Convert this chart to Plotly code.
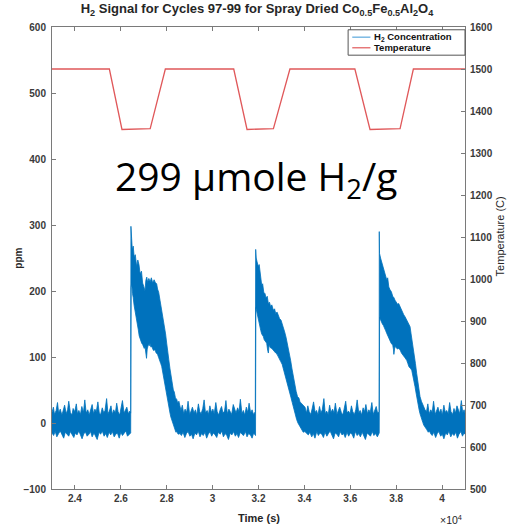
import plotly.graph_objects as go

# ---------------- data ----------------
x_tick_vals = [24000, 26000, 28000, 30000, 32000, 34000, 36000, 38000, 40000]
x_tick_text = ["2.4", "2.6", "2.8", "3", "3.2", "3.4", "3.6", "3.8", "4"]
y_tick_vals = [-100, 0, 100, 200, 300, 400, 500, 600]
y2_tick_vals = [500, 600, 700, 800, 900, 1000, 1100, 1200, 1300, 1400, 1500, 1600]

# temperature programme (C)
temp_time = [23000, 25500, 26050, 27280, 27940, 30920, 31500, 32650, 33370,
             36200, 36860, 38170, 38750, 41000]
temp_c = [1500, 1500, 1356, 1358, 1500, 1500, 1356, 1358, 1500,
          1500, 1356, 1358, 1500, 1500]

# ---- upper edge of the noisy H2 band (time s, ppm), segment by segment ----
up_base_a_t = [23000, 23060, 23110, 23180, 23240, 23290, 23360, 23430, 23480, 23550,
               23620, 23680, 23730, 23800, 23870, 23920, 23990, 24060, 24110, 24170,
               24240, 24300, 24370, 24430, 24490, 24560, 24620, 24680, 24750, 24810,
               24870, 24930, 25000, 25060, 25120, 25190, 25250, 25310, 25380, 25440,
               25500, 25570, 25630, 25690, 25760, 25820, 25880, 25950, 26010, 26070,
               26140, 26200, 26260, 26330, 26390, 26430]
up_base_a_v = [16, 24, 13, 19, 31, 15, 21, 12, 18, 27,
               14, 20, 33, 16, 12, 22, 17, 29, 14, 19,
               13, 25, 16, 35, 15, 20, 12, 18, 28, 14,
               21, 17, 32, 15, 13, 23, 16, 19, 37, 14,
               18, 26, 13, 20, 15, 30, 17, 12, 21, 34,
               15, 19, 24, 14, 18, 15]
up_peak_1_t = [26440, 26470, 26500, 26540, 26580, 26630, 26690, 26740, 26790, 26840,
               26900, 26950, 27000, 27053, 27090, 27130, 27170, 27220, 27280, 27330,
               27390, 27450, 27500, 27562, 27600, 27650, 27707, 27750, 27800, 27853,
               27900, 27950, 27998, 28040, 28090, 28143, 28190, 28240, 28288, 28330,
               28380, 28434, 28480, 28530, 28579]
up_peak_1_v = [298, 280, 262, 268, 252, 255, 237, 247, 240, 226,
               230, 212, 207, 200, 216, 221, 213, 219, 214, 220,
               212, 217, 213, 211, 203, 198, 186, 178, 168, 158,
               145, 135, 121, 112, 96, 82, 70, 58, 50, 47,
               38, 36, 30, 33, 26]
up_base_b_t = [28620, 28680, 28740, 28800, 28870, 28930, 29000, 29060, 29120, 29190,
               29250, 29310, 29380, 29440, 29500, 29570, 29630, 29690, 29760, 29820,
               29880, 29950, 30010, 30070, 30140, 30200, 30260, 30330, 30390, 30450,
               30520, 30580, 30640, 30710, 30770, 30830, 30900, 30960, 31020, 31090,
               31150, 31210, 31280, 31340, 31400, 31470, 31530, 31590, 31660, 31720,
               31780, 31860]
up_base_b_v = [19, 27, 14, 21, 16, 33, 13, 18, 24, 15,
               20, 12, 29, 17, 14, 22, 35, 15, 19, 13,
               26, 16, 21, 14, 31, 17, 12, 20, 25, 15,
               18, 34, 14, 21, 16, 13, 28, 19, 15, 23,
               17, 36, 14, 19, 12, 24, 16, 30, 15, 20,
               13, 17]
up_peak_2_t = [31877, 31900, 31940, 31994, 32030, 32080, 32139, 32180, 32230, 32284,
               32330, 32380, 32430, 32480, 32530, 32580, 32647, 32700, 32750, 32810,
               32865, 32920, 32980, 33030, 33083, 33140, 33200, 33250, 33301, 33350,
               33400, 33460, 33519, 33560, 33600, 33640, 33700, 33760, 33810, 33870,
               33940, 34028]
up_peak_2_v = [263, 250, 244, 237, 240, 222, 209, 211, 198, 196,
               189, 192, 181, 183, 176, 179, 171, 173, 166, 168,
               161, 158, 156, 149, 146, 138, 130, 122, 114, 105,
               95, 82, 70, 62, 55, 48, 40, 38, 32, 30,
               27, 24]
up_base_c_t = [34090, 34150, 34210, 34280, 34340, 34400, 34470, 34530, 34590, 34660,
               34720, 34780, 34850, 34910, 34970, 35040, 35100, 35160, 35230, 35290,
               35350, 35420, 35480, 35540, 35610, 35670, 35730, 35800, 35860, 35920,
               35990, 36050, 36110, 36180, 36240, 36300, 36370, 36430, 36490, 36560,
               36620, 36680, 36750, 36810, 36870, 36940, 37000, 37060, 37130, 37190,
               37258]
up_base_c_v = [15, 26, 17, 13, 22, 32, 16, 19, 12, 25,
               15, 20, 37, 14, 18, 13, 27, 16, 21, 15,
               30, 13, 19, 24, 16, 12, 21, 33, 15, 18,
               14, 26, 17, 13, 20, 35, 15, 19, 12, 23,
               17, 28, 14, 20, 16, 31, 13, 18, 25, 15,
               17]
up_peak_3_t = [37264, 37275, 37320, 37370, 37442, 37490, 37540, 37588, 37630, 37680,
               37733, 37790, 37850, 37900, 37951, 38000, 38060, 38110, 38169, 38220,
               38280, 38330, 38387, 38440, 38500, 38550, 38605, 38650, 38700, 38750,
               38790, 38840, 38895, 38930, 38970, 39010, 39040, 39100, 39150, 39200,
               39258]
up_peak_3_v = [290, 257, 250, 244, 237, 230, 226, 217, 220, 206,
               202, 199, 192, 190, 186, 183, 180, 181, 176, 172,
               168, 164, 161, 157, 153, 151, 146, 135, 124, 116,
               104, 90, 75, 66, 56, 46, 40, 33, 28, 24,
               20]
up_base_d_t = [39320, 39380, 39440, 39510, 39570, 39630, 39700, 39760, 39820, 39890,
               39950, 40010, 40080, 40140, 40200, 40270, 40330, 40390, 40460, 40520,
               40580, 40650, 40710, 40770, 40840, 40900, 40960, 41000]
up_base_d_v = [17, 29, 14, 20, 16, 33, 13, 19, 24, 15,
               21, 12, 27, 16, 19, 14, 31, 17, 13, 22,
               15, 26, 18, 14, 34, 16, 20, 15]

# ---- lower edge of the noisy H2 band (time s, ppm) ----
lo_base_a_t = [23000, 23070, 23140, 23210, 23290, 23360, 23430, 23510, 23580, 23650,
               23730, 23800, 23870, 23950, 24020, 24090, 24170, 24240, 24310, 24390,
               24460, 24530, 24610, 24680, 24750, 24830, 24900, 24970, 25050, 25120,
               25190, 25270, 25340, 25410, 25490, 25560, 25630, 25710, 25780, 25850,
               25930, 26000, 26070, 26150, 26220, 26290, 26370, 26430]
lo_base_a_v = [-15, -19, -13, -21, -16, -12, -18, -23, -14, -17,
               -20, -13, -16, -22, -15, -18, -12, -19, -24, -16,
               -14, -20, -17, -13, -21, -15, -19, -25, -14, -17,
               -12, -20, -16, -22, -14, -18, -13, -21, -17, -15,
               -23, -14, -19, -16, -12, -20, -17, -15]
lo_peak_1_t = [26448, 26470, 26510, 26540, 26580, 26618, 26650, 26690, 26730, 26763,
               26800, 26830, 26870, 26908, 26950, 26980, 27020, 27053, 27090, 27120,
               27150, 27200, 27240, 27271, 27310, 27350, 27420, 27489, 27540, 27600,
               27650, 27707, 27740, 27780, 27820, 27853, 27890, 27930, 27960, 27998,
               28030, 28070, 28110, 28143, 28180, 28210, 28250, 28288, 28330, 28360,
               28400, 28434, 28500, 28579]
lo_peak_1_v = [205, 212, 196, 190, 178, 171, 160, 155, 147, 141,
               132, 128, 124, 121, 119, 118, 113, 116, 106, 98,
               112, 119, 117, 121, 115, 116, 110, 111, 106, 104,
               99, 95, 90, 86, 80, 75, 68, 60, 53, 45,
               38, 30, 22, 15, 9, 3, -1, -5, -8, -10,
               -14, -13, -17, -16]
lo_base_b_t = [28640, 28710, 28790, 28860, 28930, 29010, 29080, 29150, 29230, 29300,
               29370, 29450, 29520, 29590, 29670, 29740, 29810, 29890, 29960, 30030,
               30110, 30180, 30250, 30330, 30400, 30470, 30550, 30620, 30690, 30770,
               30840, 30910, 30990, 31060, 31130, 31210, 31280, 31350, 31430, 31500,
               31570, 31650, 31720, 31790, 31870]
lo_base_b_v = [-19, -14, -22, -16, -13, -20, -17, -24, -15, -18,
               -12, -21, -16, -19, -14, -23, -17, -13, -20, -15,
               -18, -22, -14, -17, -12, -21, -16, -19, -25, -15,
               -18, -13, -20, -16, -22, -14, -17, -19, -13, -21,
               -16, -18, -23, -15, -19]
lo_peak_2_t = [31885, 31920, 31960, 32000, 32030, 32066, 32100, 32139, 32180, 32211,
               32250, 32284, 32320, 32357, 32400, 32430, 32460, 32490, 32520, 32580,
               32647, 32700, 32750, 32810, 32865, 32920, 32970, 33030, 33083, 33140,
               33200, 33250, 33301, 33360, 33420, 33470, 33519, 33560, 33600, 33630,
               33665, 33720, 33780, 33830, 33883, 33950, 34020, 34100]
lo_peak_2_v = [175, 171, 162, 155, 150, 146, 140, 135, 133, 131,
               126, 124, 123, 121, 110, 106, 118, 116, 114, 113,
               111, 108, 106, 104, 101, 97, 93, 89, 85, 78,
               70, 63, 55, 46, 38, 31, 25, 19, 13, 9,
               5, 0, -4, -8, -10, -14, -13, -16]
lo_base_c_t = [34170, 34240, 34320, 34390, 34460, 34540, 34610, 34680, 34760, 34830,
               34900, 34980, 35050, 35120, 35200, 35270, 35340, 35420, 35490, 35560,
               35640, 35710, 35780, 35860, 35930, 36000, 36080, 36150, 36220, 36300,
               36370, 36440, 36520, 36590, 36660, 36740, 36810, 36880, 36960, 37030,
               37100, 37180, 37262]
lo_base_c_v = [-18, -14, -21, -16, -23, -13, -19, -15, -17, -22,
               -14, -20, -16, -12, -19, -24, -15, -17, -21, -13,
               -18, -16, -22, -14, -20, -15, -17, -23, -13, -19,
               -16, -21, -14, -18, -25, -15, -17, -20, -13, -19,
               -16, -21, -15]
lo_peak_3_t = [37278, 37300, 37350, 37400, 37440, 37486, 37540, 37600, 37650, 37704,
               37780, 37850, 37880, 37900, 37930, 37951, 38000, 38060, 38110, 38169,
               38230, 38300, 38380, 38460, 38510, 38560, 38620, 38678, 38710, 38750,
               38790, 38822, 38860, 38900, 38930, 38968, 39000, 39040, 39080, 39113,
               39160, 39200, 39260, 39331, 39400, 39450, 39500]
lo_peak_3_v = [160, 158, 153, 150, 148, 146, 140, 135, 130, 126,
               121, 118, 112, 104, 112, 116, 114, 112, 113, 111,
               106, 102, 99, 95, 90, 85, 83, 80, 72, 65,
               60, 55, 47, 38, 32, 25, 20, 14, 9, 5,
               1, -3, -7, -10, -14, -12, -16]
lo_base_d_t = [39570, 39640, 39720, 39790, 39860, 39940, 40010, 40080, 40160, 40230,
               40300, 40380, 40450, 40520, 40600, 40670, 40740, 40820, 40890, 40960,
               41000]
lo_base_d_v = [-19, -14, -22, -16, -13, -20, -17, -24, -15, -18,
               -12, -21, -16, -19, -14, -23, -17, -13, -20, -15,
               -17]

h2_upper_time = (up_base_a_t + up_peak_1_t + up_base_b_t + up_peak_2_t
                 + up_base_c_t + up_peak_3_t + up_base_d_t)
h2_upper_ppm = (up_base_a_v + up_peak_1_v + up_base_b_v + up_peak_2_v
                + up_base_c_v + up_peak_3_v + up_base_d_v)
h2_lower_time = (lo_base_a_t + lo_peak_1_t + lo_base_b_t + lo_peak_2_t
                 + lo_base_c_t + lo_peak_3_t + lo_base_d_t)
h2_lower_ppm = (lo_base_a_v + lo_peak_1_v + lo_base_b_v + lo_peak_2_v
                + lo_base_c_v + lo_peak_3_v + lo_base_d_v)

series_names = ["H<sub>2</sub> Concentration", "Temperature"]

# ---------------- styling ----------------
BLUE = "#0072BD"
RED = "#E0585A"
AXIS = "#7a7a7a"
TXT = "#262626"
FONT = "Liberation Sans, Arial, sans-serif"

fig = go.Figure()

# H2 band: upper edge forward, lower edge backward, closed polygon
band_x = h2_upper_time + h2_lower_time[::-1]
band_y = h2_upper_ppm + h2_lower_ppm[::-1]
fig.add_trace(go.Scatter(
    x=band_x, y=band_y, mode="lines", fill="toself",
    fillcolor=BLUE, line=dict(color=BLUE, width=0.8),
    name=series_names[0], showlegend=False, hoverinfo="skip",
))
fig.add_trace(go.Scatter(
    x=temp_time, y=temp_c, mode="lines", yaxis="y2",
    line=dict(color=RED, width=1.3), name=series_names[1], showlegend=False,
))

tickfont = dict(size=10, color="#3a3a3a", family=FONT, weight="bold")

fig.update_layout(
    width=514, height=526,
    margin=dict(l=52, r=49, t=27, b=37),
    paper_bgcolor="white", plot_bgcolor="white",
    font=dict(family=FONT, color=TXT, size=10),
    title=dict(
        text="<b>H<sub>2</sub> Signal for Cycles 97-99 for Spray Dried "
             "Co<sub>0.5</sub>Fe<sub>0.5</sub>Al<sub>2</sub>O<sub>4</sub></b>",
        x=0.5, xanchor="center", y=0.992, yanchor="top",
        font=dict(size=13, color=TXT, family=FONT),
    ),
    xaxis=dict(
        range=[23000, 41000], tickvals=x_tick_vals, ticktext=x_tick_text,
        showline=True, linecolor=AXIS, linewidth=1, mirror="ticks",
        ticks="inside", ticklen=4, tickcolor=AXIS, showgrid=False,
        zeroline=False, tickfont=tickfont,
    ),
    yaxis=dict(
        range=[-100, 600], tickvals=y_tick_vals,
        showline=True, linecolor=AXIS, linewidth=1,
        ticks="inside", ticklen=4, tickcolor=AXIS, showgrid=False,
        zeroline=False, tickfont=tickfont, ticklabelstandoff=3,
    ),
    yaxis2=dict(
        range=[500, 1600], tickvals=y2_tick_vals, overlaying="y", side="right",
        showline=True, linecolor=AXIS, linewidth=1,
        ticks="inside", ticklen=4, tickcolor=AXIS, showgrid=False,
        zeroline=False, tickfont=tickfont, ticklabelstandoff=2,
    ),
    showlegend=False,
)

# hand-drawn legend box (legend rows are tighter than plotly's own legend)
LEG_X0, LEG_X1, LEG_Y0, LEG_Y1 = 0.717, 1.0, 0.939, 0.994
shapes = [
    dict(type="rect", xref="paper", yref="paper", x0=LEG_X0, x1=LEG_X1, y0=LEG_Y0, y1=LEG_Y1,
         line=dict(color="#555555", width=1), fillcolor="white", layer="above"),
    dict(type="line", xref="paper", yref="paper", x0=0.727, x1=0.771, y0=0.978, y1=0.978,
         line=dict(color="#5aa7dc", width=1.2), layer="above"),
    dict(type="line", xref="paper", yref="paper", x0=0.727, x1=0.771, y0=0.955, y1=0.955,
         line=dict(color=RED, width=1.2), layer="above"),
]
fig.update_layout(shapes=shapes)

leg_font = dict(size=9.5, color="#111111", family=FONT, weight="bold")
annos = [
    dict(text=series_names[0], x=0.776, y=0.978, xref="paper", yref="paper",
         showarrow=False, font=leg_font, xanchor="left", yanchor="middle"),
    dict(text=series_names[1], x=0.776, y=0.955, xref="paper", yref="paper",
         showarrow=False, font=leg_font, xanchor="left", yanchor="middle"),
    dict(text="299 µmole H<sub>2</sub>/g", x=0.494, y=0.674, xref="paper", yref="paper",
         showarrow=False, font=dict(family="Open Sans, sans-serif", size=39, color="black"),
         xanchor="center", yanchor="middle"),
    dict(text="<b>ppm</b>", x=-0.083, y=0.5, xref="paper", yref="paper", textangle=-90,
         showarrow=False, font=dict(size=10, color=TXT), xanchor="center", yanchor="middle"),
    dict(text="Temperature (C)", x=1.085, y=0.547, xref="paper", yref="paper", textangle=-90,
         showarrow=False, font=dict(size=11, color=TXT), xanchor="center", yanchor="middle"),
    dict(text="<b>Time (s)</b>", x=0.5, y=-0.062, xref="paper", yref="paper",
         showarrow=False, font=dict(size=11, color=TXT), xanchor="center", yanchor="middle"),
    dict(text="×10<sup>4</sup>", x=0.967, y=-0.066, xref="paper", yref="paper",
         showarrow=False, font=dict(size=10.5, color=TXT), xanchor="center", yanchor="middle"),
]
fig.update_layout(annotations=annos)

fig.write_html("out.html", config={"displayModeBar": False},
               post_script="document.body.style.margin='0';document.body.style.overflow='hidden';")
